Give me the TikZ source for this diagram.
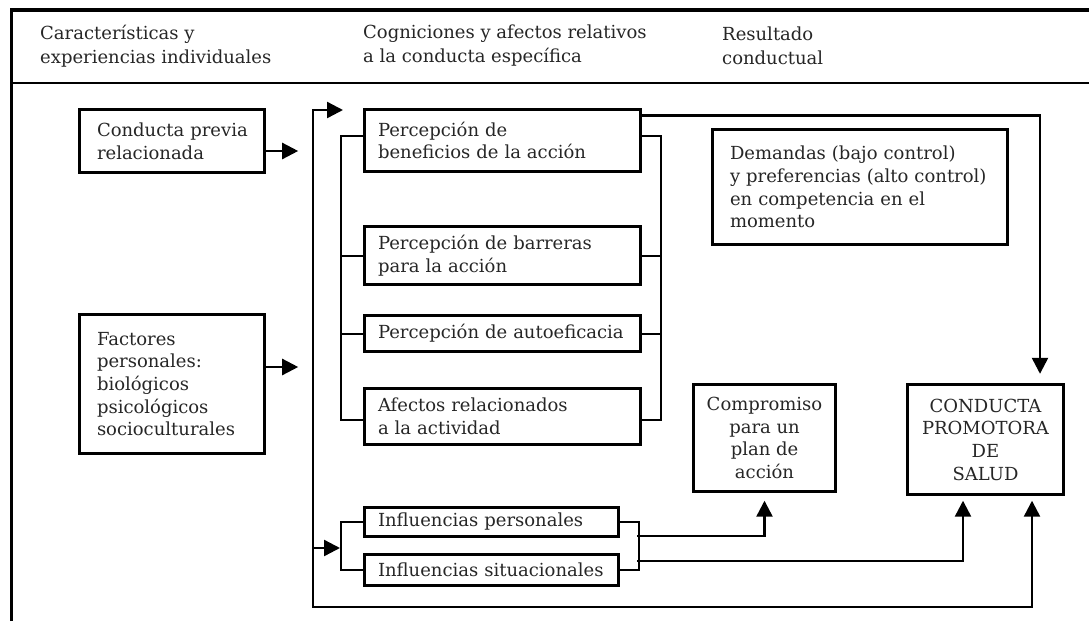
\documentclass[tikz,border=0pt]{standalone}
\usepackage{fontspec}
\setmainfont{DejaVu Serif}
\usetikzlibrary{arrows.meta,calc}
\begin{document}
\begin{tikzpicture}[x=1pt,y=-1pt,
  txt/.style={font=\fontsize{18pt}{22.7pt}\selectfont, text=black!85},
  htxt/.style={font=\fontsize{18pt}{24pt}\selectfont, text=black!85, align=left, anchor=west, inner sep=0pt},
  box/.style={draw, line width=3.4pt, inner ysep=0pt, txt},
  lbox/.style={box, align=left},
  cbox/.style={box, align=center, inner xsep=0pt},
  con/.style={line width=2.4pt},
  arr/.style={con, -{Triangle[length=16pt,width=16pt]}},
  darr/.style={con, {Triangle[length=16pt,width=16pt]}-{Triangle[length=16pt,width=16pt]}},
  brk/.style={line width=2pt},
]
\useasboundingbox (0,0) rectangle (1089,621);
% frame
\draw[line width=3.4pt] (11.5,621) -- (11.5,10) -- (1089,10);
\draw[line width=2.6pt] (11.5,83) -- (1089,83);
% headers
\node[htxt] (h1) at (40,46) {Características y\\experiencias individuales};
\node[htxt] (h2) at (363,46) {Cogniciones y afectos relativos\\a la conducta específica};
\node[htxt] (h3) at (722,46) {Resultado\\conductual};
% boxes
\node[lbox, minimum width=185pt, minimum height=63pt, text width=150pt, inner xsep=17.5pt] (cp) at (172,141) {\mbox{Conducta previa}\\relacionada};
\node[lbox, minimum width=185pt, minimum height=139pt, text width=150pt, inner xsep=17.5pt] (fp) at (172,384) {Factores\\personales:\\biológicos\\psicológicos\\\mbox{socioculturales}};
\node[lbox, minimum width=276pt, minimum height=62pt, text width=249pt, inner xsep=13.5pt] (ben) at (502.5,140.5) {Percepción de\\\mbox{beneficios de la acción}};
\node[lbox, minimum width=276pt, minimum height=58pt, text width=249pt, inner xsep=13.5pt] (bar) at (502.5,255.5) {\mbox{Percepción de barreras}\\para la acción};
\node[lbox, minimum width=276pt, minimum height=36pt, text width=249pt, inner xsep=13.5pt] (aut) at (502.5,333.5) {\mbox{Percepción de autoeficacia}};
\node[lbox, minimum width=276pt, minimum height=56pt, text width=249pt, inner xsep=13.5pt] (afe) at (502.5,416.5) {\mbox{Afectos relacionados}\\a la actividad};
\node[lbox, minimum width=254pt, minimum height=29pt, text width=227pt, inner xsep=13.5pt] (ip) at (491.5,522) {\mbox{Influencias personales}};
\node[lbox, minimum width=254pt, minimum height=31pt, text width=227pt, inner xsep=13.5pt] (is) at (491.5,570) {\mbox{Influencias situacionales}};
\node[lbox, minimum width=295pt, minimum height=115pt, text width=260pt, inner xsep=17.5pt] (dem) at (860,187) {\mbox{Demandas (bajo control)}\\\mbox{y preferencias (alto control)}\\\mbox{en competencia en el}\\momento};
\node[cbox, minimum width=142pt, minimum height=107pt] (comp) at (764.5,438) {Compromiso\\para un\\plan de\\acción};
\node[cbox, minimum width=156pt, minimum height=110pt] (cps) at (985.5,439.5) {CONDUCTA\\PROMOTORA\\DE\\SALUD};
% coordinates
\coordinate (vtop) at (313,110);
\coordinate (vbot) at (313,607);
\coordinate (vmid) at (313,548);
\coordinate (ttip) at (343,110);
\coordinate (mtip) at (340,548);
\coordinate (rb1) at (637,536);
\coordinate (rb2) at (637,561);
% arrows from left boxes
\draw[arr] ([yshift=-10pt]cp.east) -- ++(32,0);
\draw[arr] ([yshift=17pt]fp.east) -- ++(32,0);
% main loop
\draw[darr, shorten >=4.5pt] (ttip) -- (vtop) -- (vbot) -| ([xshift=46.5pt]cps.south);
\draw[arr] (vmid) -- (mtip);
% beneficios to conducta
\draw[arr, shorten >=9pt] ([yshift=25pt]ben.east) -| ([xshift=54.5pt]cps.north);
% perception brackets
\draw[brk] ([yshift=5pt]ben.west) -- ++(-21.5,0) |- ([yshift=-3.5pt]afe.west);
\draw[brk] (bar.west) -- ++(-21.5,0);
\draw[brk] (aut.west) -- ++(-21.5,0);
\draw[brk] ([yshift=5pt]ben.east) -- ++(18.5,0) |- ([yshift=-3.5pt]afe.east);
\draw[brk] (bar.east) -- ++(18.5,0);
\draw[brk] (aut.east) -- ++(18.5,0);
% influence brackets
\draw[brk] (ip.west) -- ++(-21.5,0) |- (is.west);
\draw[brk] (ip.east) -- ++(18.5,0) |- (is.east);
% influence outputs
\draw[arr, shorten >=7.5pt] (rb1) -| (comp.south);
\draw[arr, shorten >=4.5pt] (rb2) -| ([xshift=-22.5pt]cps.south);
\end{tikzpicture}
\end{document}
